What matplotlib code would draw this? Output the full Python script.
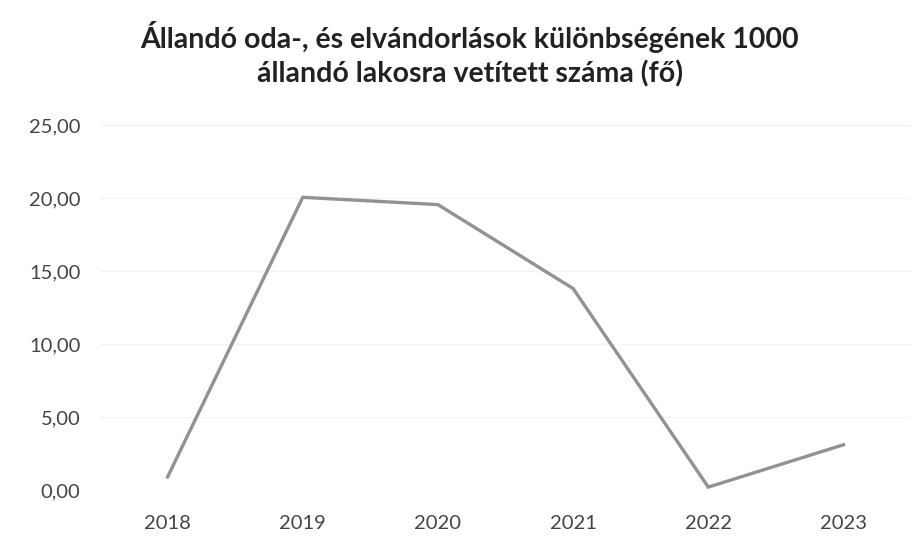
import matplotlib
matplotlib.use('Agg')
import matplotlib.pyplot as plt

years = ['2018', '2019', '2020', '2021', '2022', '2023']
values = [0.9, 20.05, 19.55, 13.8, 0.2, 3.1]
y_ticks = [0, 5, 10, 15, 20, 25]

fig = plt.figure(figsize=(9.21, 5.42), dpi=100)
ax = fig.add_axes([0.1086, 0.0959, 0.8806, 0.6734])

x = range(len(years))
ax.plot(x, values, color='#929292', linewidth=2.4, solid_joinstyle='miter')

ax.set_xlim(-0.5, len(years) - 0.5)
ax.set_ylim(0, 25)
ax.set_yticks(y_ticks)
ax.set_yticklabels([f'{v:.2f}'.replace('.', ',') for v in y_ticks])
ax.set_xticks(list(x))
ax.set_xticklabels(years)

ax.grid(axis='y', color='#f3f3f3', linewidth=1)
ax.set_axisbelow(True)
for s in ax.spines.values():
    s.set_visible(False)
ax.tick_params(length=0, labelsize=14.5, colors='#444444', pad=18)
ax.tick_params(axis='y', pad=14)
for lab in ax.get_xticklabels() + ax.get_yticklabels():
    lab.set_family('Lato')

fig.text(0.51, 0.9, 'Állandó oda-, és elvándorlások különbségének 1000\n'
         'állandó lakosra vetített száma (fő)',
         ha='center', va='center', fontsize=20.5, fontweight='bold',
         family='Lato', color='#222222', linespacing=1.3)

fig.savefig('out.png', dpi=100)
